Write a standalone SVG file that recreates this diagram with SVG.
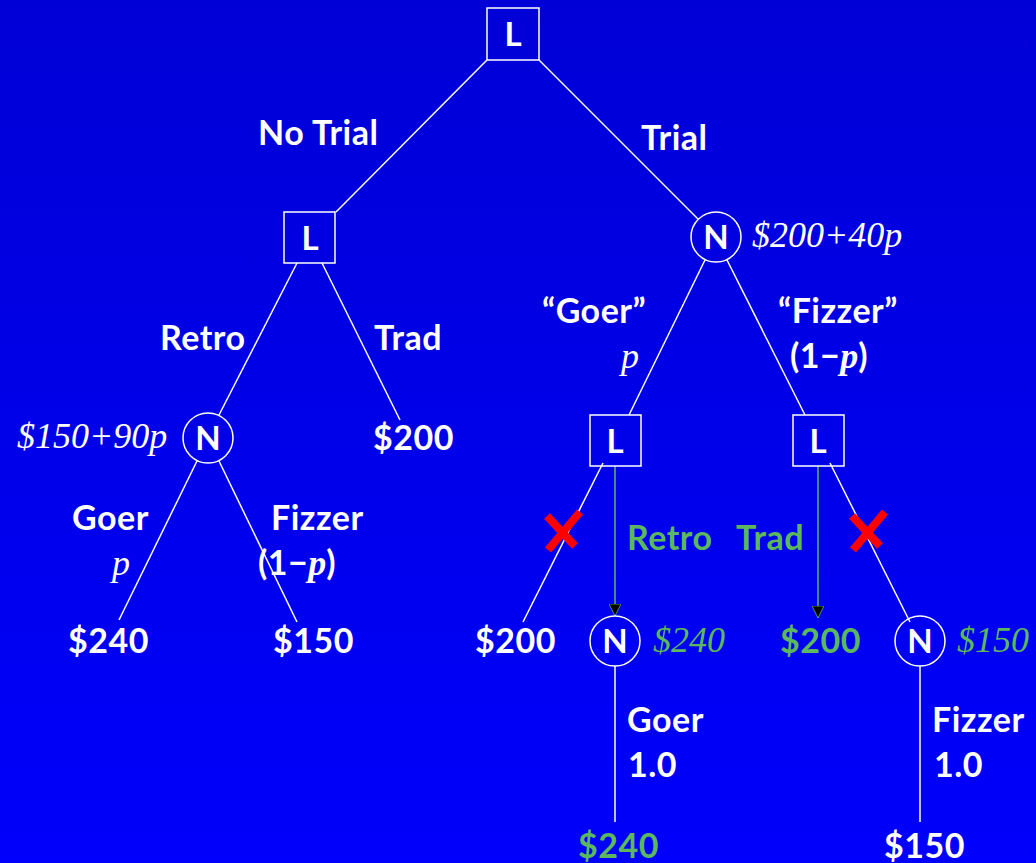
<svg xmlns="http://www.w3.org/2000/svg" width="1036" height="863" viewBox="0 0 1036 863">
<defs>
<linearGradient id="bg" x1="0" y1="0" x2="0" y2="1">
<stop offset="0" stop-color="#0000d6"/>
<stop offset="1" stop-color="#0000fc"/>
</linearGradient>
<marker id="ah" viewBox="0 0 12 12" refX="12" refY="6" markerWidth="12" markerHeight="12" markerUnits="userSpaceOnUse" orient="auto">
<path d="M0,0 L12,6 L0,12 Z" fill="#000" stroke="#5cb85c" stroke-width="0.8"/>
</marker>
<style>
.b{font-family:Lato,"Open Sans","Liberation Sans",sans-serif;font-weight:bold;font-size:34px;fill:#fff;letter-spacing:0.5px}
.i{font-family:"Liberation Serif",serif;font-style:italic;font-size:36px;fill:#fff;letter-spacing:0}
text.g{fill:#5cb85c}
.nl{font-family:Lato,"Liberation Sans",sans-serif;font-weight:bold;font-size:33px;fill:#fff;text-anchor:middle}
.box{fill:none;stroke:#fff;stroke-width:1.5}
.e{stroke:#fff;stroke-width:1.5;fill:none}
.ge{stroke:#5cb85c;stroke-width:1.5;fill:none;marker-end:url(#ah)}
.x{stroke:#ff0000;stroke-width:8;stroke-linecap:butt}
</style>
</defs>
<rect width="1036" height="863" fill="url(#bg)"/>
<g id="connectors">
<line class="e" x1="487" y1="60" x2="336" y2="212"/>
<line class="e" x1="539" y1="60" x2="698" y2="219"/>
<line class="e" x1="297" y1="263" x2="219" y2="415"/>
<line class="e" x1="322" y1="263" x2="400" y2="420"/>
<line class="e" x1="197" y1="461" x2="119" y2="620"/>
<line class="e" x1="219" y1="461" x2="297" y2="622"/>
<line class="e" x1="705" y1="260" x2="629" y2="415"/>
<line class="e" x1="727" y1="260" x2="805" y2="415"/>
<line class="e" x1="603" y1="463" x2="523" y2="622"/>
<line class="e" x1="830" y1="463" x2="910" y2="622"/>
<line class="ge" x1="615" y1="466" x2="615" y2="616"/>
<line class="ge" x1="818" y1="466" x2="818" y2="618"/>
<line class="e" x1="615" y1="666" x2="615" y2="822"/>
<line class="e" x1="920" y1="666" x2="920" y2="822"/>
</g>
<g id="crosses">
<line class="x" x1="548" y1="550" x2="580" y2="512"/>
<line class="x" x1="547" y1="516" x2="575" y2="546"/>
<line class="x" x1="853" y1="550" x2="885" y2="512"/>
<line class="x" x1="852" y1="516" x2="880" y2="546"/>
</g>
<g id="n_root"><rect class="box" x="487" y="8" width="52" height="52"/><text class="nl" x="513" y="46">L</text></g>
<g id="n_notrial"><rect class="box" x="284" y="212" width="51" height="51"/><text class="nl" x="310" y="250">L</text></g>
<g id="n_trial"><circle class="box" cx="716" cy="237" r="25"/><text class="nl" x="716" y="249">N</text></g>
<g id="n_retro"><circle class="box" cx="208" cy="438" r="25"/><text class="nl" x="208" y="450">N</text></g>
<g id="n_goerL"><rect class="box" x="590" y="415" width="51" height="51"/><text class="nl" x="615" y="453">L</text></g>
<g id="n_fizL"><rect class="box" x="793" y="415" width="51" height="51"/><text class="nl" x="818" y="453">L</text></g>
<g id="n_goerN"><circle class="box" cx="615" cy="641" r="25"/><text class="nl" x="615" y="653">N</text></g>
<g id="n_fizN"><circle class="box" cx="920" cy="641" r="25"/><text class="nl" x="920" y="653">N</text></g>
<g id="labels">
<text class="b" x="258" y="145">No Trial</text>
<text class="b" x="641" y="150">Trial</text>
<text class="i" x="752" y="247">$200+40p</text>
<text class="b" x="160" y="350">Retro</text>
<text class="b" x="374" y="350">Trad</text>
<text class="i" x="17" y="448">$150+90p</text>
<text class="b" x="373" y="450">$200</text>
<text class="b" x="72" y="530">Goer</text>
<text class="i" x="112" y="575">p</text>
<text class="b" x="271" y="530">Fizzer</text>
<text class="b" x="258" y="575">(1−<tspan class="i">p</tspan>)</text>
<text class="b" x="68" y="653">$240</text>
<text class="b" x="273" y="653">$150</text>
<text class="b" x="542" y="323">“Goer”</text>
<text class="i" x="621" y="368">p</text>
<text class="b" x="778" y="323">“Fizzer”</text>
<text class="b" x="790" y="368">(1−<tspan class="i">p</tspan>)</text>
<text class="b g" x="627" y="550">Retro</text>
<text class="b g" x="736" y="550">Trad</text>
<text class="b" x="475" y="653">$200</text>
<text class="i g" x="653" y="652">$240</text>
<text class="b g" x="780" y="653">$200</text>
<text class="i g" x="957" y="652">$150</text>
<text class="b" x="627" y="732">Goer</text>
<text class="b" x="628" y="777">1.0</text>
<text class="b" x="932" y="732">Fizzer</text>
<text class="b" x="934" y="777">1.0</text>
<text class="b g" x="578" y="858">$240</text>
<text class="b" x="884" y="858">$150</text>
</g>
</svg>
